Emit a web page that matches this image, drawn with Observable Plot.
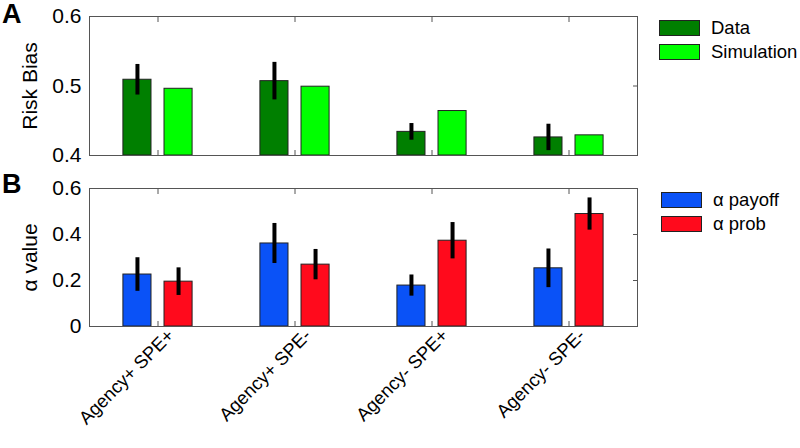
<!DOCTYPE html>
<html>
<head>
<meta charset="utf-8">
<script src="https://cdn.jsdelivr.net/npm/d3@7"></script>
<script src="https://cdn.jsdelivr.net/npm/@observablehq/plot@0.6"></script>
<style>
  html, body { margin: 0; padding: 0; background: #fff; }
  #wrap { position: relative; width: 800px; height: 448px; font-family: "Liberation Sans", Arial, sans-serif; }
  .panel { position: absolute; left: 0; }
  .letter { position: absolute; font-weight: bold; font-size: 27px; line-height: 1; color: #000; }
  .legend { position: absolute; font-size: 18.5px; color: #000; }
  .legend .row { display: flex; align-items: center; height: 24px; }
  .legend .sw { width: 39px; height: 14px; border: 1px solid #222; margin-right: 11px; }
</style>
</head>
<body>
<div id="wrap"></div>
<script>
// ---- data ----
const categories = ["Agency+ SPE+", "Agency+ SPE-", "Agency- SPE+", "Agency- SPE-"];

const seriesA = ["Data", "Simulation"];
const dataValues = [0.509, 0.507, 0.434, 0.426];
const dataErrors = [0.022, 0.027, 0.012, 0.019];
const simValues = [0.496, 0.499, 0.464, 0.429];

const seriesB = ["α payoff", "α prob"];
const payoffValues = [0.226, 0.361, 0.178, 0.253];
const payoffErrors = [0.073, 0.087, 0.046, 0.084];
const probValues = [0.195, 0.269, 0.373, 0.489];
const probErrors = [0.060, 0.066, 0.079, 0.070];

const ticksA = [0.4, 0.5, 0.6];
const ticksB = [0, 0.2, 0.4, 0.6];

const colorsA = ["#007f00", "#00ff00"];
const colorsB = ["#0a52f7", "#ff0a1c"];

// ---- layout helpers (group layout in category units) ----
const barW = 0.205, offs = [-0.15, 0.15];
function buildRows(valsList, errsList, names) {
  const rows = [];
  valsList.forEach((vals, s) => {
    vals.forEach((v, i) => {
      rows.push({
        series: names[s], cat: i + 1,
        xc: i + 1 + offs[s],
        x1: i + 1 + offs[s] - barW / 2, x2: i + 1 + offs[s] + barW / 2,
        v, e: errsList[s] ? errsList[s][i] : null
      });
    });
  });
  return rows;
}

const rowsA = buildRows([dataValues, simValues], [dataErrors, null], seriesA);
const rowsB = buildRows([payoffValues, probValues], [payoffErrors, probErrors], seriesB);

const font = "Liberation Sans, Arial, sans-serif";
const catTicks = categories.map((c, i) => i + 1);

function panel({rows, yDomain, yTicks, base, colors, names, label, showX, height, marginTop, marginBottom}) {
  return Plot.plot({
    width: 800, height, marginLeft: 89, marginRight: 163, marginTop, marginBottom,
    style: {fontFamily: font, fontSize: "19px", color: "#000", background: "#fff"},
    x: {domain: [0.5, 4.5]},
    y: {domain: yDomain},
    color: {domain: names, range: colors},
    marks: [
      Plot.rectY(rows, {x1: "x1", x2: "x2", y1: base, y2: "v", fill: "series", stroke: "#222", strokeWidth: 1}),
      Plot.ruleX(rows.filter(d => d.e != null), {x: "xc", y1: d => d.v - d.e, y2: d => d.v + d.e, stroke: "#000", strokeWidth: 4}),
      Plot.frame({stroke: "#555", strokeWidth: 1}),
      Plot.axisY({anchor: "left", ticks: yTicks, tickSize: 0, tickPadding: 8, label, labelAnchor: "center", labelArrow: "none", labelOffset: 67, fontSize: 21, tickFormat: d => d === 0 ? "0" : d3.format(".1f")(d)}),
      Plot.axisY({anchor: "right", ticks: yTicks, tickSize: -5, tickFormat: () => "", label: null, stroke: "#555"}),
      Plot.axisX({anchor: "bottom", ticks: catTicks, tickSize: -5, tickFormat: () => "", label: null, stroke: "#555"}),
      Plot.axisX({anchor: "top", ticks: catTicks, tickSize: -5, tickFormat: () => "", label: null, stroke: "#555"}),
      ...(showX ? [Plot.axisX({anchor: "bottom", ticks: catTicks, tickSize: 0, tickPadding: 6, tickRotate: -45, dx: 13, tickFormat: d => categories[d - 1], label: null, fontSize: 18.5})] : [])
    ]
  });
}

const wrap = document.getElementById("wrap");

const pA = panel({rows: rowsA, yDomain: [0.4, 0.6], yTicks: ticksA, base: 0.4, colors: colorsA, names: seriesA,
  label: "Risk Bias", showX: false, height: 170, marginTop: 16, marginBottom: 15});
const pB = panel({rows: rowsB, yDomain: [0, 0.6], yTicks: ticksB, base: 0, colors: colorsB, names: seriesB,
  label: "α value", showX: true, height: 278, marginTop: 18, marginBottom: 122});

const dA = document.createElement("div"); dA.className = "panel"; dA.style.top = "0px"; dA.appendChild(pA); wrap.appendChild(dA);
const dB = document.createElement("div"); dB.className = "panel"; dB.style.top = "170px"; dB.appendChild(pB); wrap.appendChild(dB);

function letter(t, top) {
  const el = document.createElement("div"); el.className = "letter"; el.textContent = t;
  el.style.left = "2px"; el.style.top = top + "px"; wrap.appendChild(el);
}
letter("A", 1); letter("B", 171);

function legend(names, colors, top, left) {
  const el = document.createElement("div"); el.className = "legend";
  el.style.left = left + "px"; el.style.top = top + "px";
  names.forEach((n, i) => {
    const r = document.createElement("div"); r.className = "row";
    const sw = document.createElement("div"); sw.className = "sw"; sw.style.background = colors[i];
    const tx = document.createElement("span"); tx.textContent = n;
    r.appendChild(sw); r.appendChild(tx); el.appendChild(r);
  });
  wrap.appendChild(el);
}
legend(seriesA, colorsA, 16, 659);
legend(seriesB, colorsB, 188, 661);
</script>
</body>
</html>
